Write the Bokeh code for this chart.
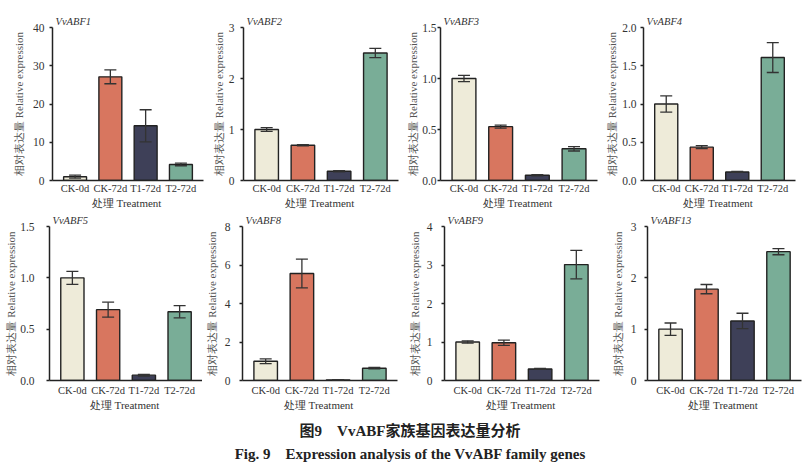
from bokeh.plotting import figure
from bokeh.models import (ColumnDataSource, Whisker, TeeHead, FixedTicker,
                          NumeralTickFormatter, Range1d, FactorRange, Div)
from bokeh.layouts import column, row
from bokeh.embed import file_html
from bokeh.resources import INLINE

# ---------------- data ----------------
treatments = ["CK-0d", "CK-72d", "T1-72d", "T2-72d"]
bar_colors = ["#eeebd9", "#d8765f", "#3e4058", "#79ad97"]
genes = ["VvABF1", "VvABF2", "VvABF3", "VvABF4",
         "VvABF5", "VvABF8", "VvABF9", "VvABF13"]

abf1_mean = [1.0, 27.1, 14.3, 4.2]
abf1_err = [0.4, 1.8, 4.2, 0.35]
abf2_mean = [1.0, 0.69, 0.18, 2.50]
abf2_err = [0.035, 0.012, 0.012, 0.09]
abf3_mean = [1.0, 0.528, 0.052, 0.311]
abf3_err = [0.03, 0.015, 0.006, 0.022]
abf4_mean = [1.0, 0.436, 0.112, 1.607]
abf4_err = [0.105, 0.02, 0.006, 0.195]
abf5_mean = [1.0, 0.69, 0.052, 0.67]
abf5_err = [0.063, 0.073, 0.008, 0.06]
abf8_mean = [1.0, 5.56, 0.03, 0.64]
abf8_err = [0.12, 0.75, 0.01, 0.04]
abf9_mean = [1.0, 0.98, 0.30, 3.01]
abf9_err = [0.03, 0.07, 0.012, 0.37]
abf13_mean = [1.0, 1.78, 1.16, 2.51]
abf13_err = [0.12, 0.09, 0.15, 0.06]

means = [abf1_mean, abf2_mean, abf3_mean, abf4_mean,
         abf5_mean, abf8_mean, abf9_mean, abf13_mean]
errors = [abf1_err, abf2_err, abf3_err, abf4_err,
          abf5_err, abf8_err, abf9_err, abf13_err]

y_ticks = [[0, 10, 20, 30, 40], [0, 1, 2, 3], [0, 0.5, 1.0, 1.5],
           [0, 0.5, 1.0, 1.5, 2.0], [0, 0.5, 1.0, 1.5], [0, 2, 4, 6, 8],
           [0, 1, 2, 3, 4], [0, 1, 2, 3]]
tick_formats = ["0", "0", "0.0", "0.0", "0.0", "0", "0", "0"]

y_label = "相对表达量 Relative expression"
x_label = "处理  Treatment"
caption_cn = "图9&emsp;VvABF家族基因表达量分析"
caption_en = "Fig. 9&emsp;Expression analysis of the VvABF family genes"

# ---------------- layout / style ----------------
frame_w = [151, 155, 157, 152, 153, 155, 155, 154]
frame_h = [153, 153, 153, 153, 154, 154, 154, 154]
border_l = [52, 38, 40, 43, 49, 36, 40, 43]
border_r = [2, 2, 3, 15, 0, 7, 5, 13]
border_t = [27, 27, 27, 27, 15, 15, 15, 15]
border_b = [30, 30, 30, 30, 30, 30, 30, 30]
ytick_standoff = [5, 6, 1, 4, 12, 9, 9, 8]
ylabel_standoff = [5, 1, 0, 1, 0, 4, 3, 4]
xtick_standoff = [2, 2, 2, 2, 4, 4, 4, 4]

SERIF = "Liberation Serif"
AX = "#222222"


def make_panel(i):
    src = ColumnDataSource(dict(
        x=treatments,
        top=means[i],
        upper=[m + e for m, e in zip(means[i], errors[i])],
        lower=[m - e for m, e in zip(means[i], errors[i])],
        color=bar_colors,
    ))
    p = figure(x_range=FactorRange(factors=treatments, range_padding=0.07),
               y_range=Range1d(0, y_ticks[i][-1]),
               frame_width=frame_w[i], frame_height=frame_h[i],
               min_border_left=border_l[i], min_border_right=border_r[i],
               min_border_top=border_t[i], min_border_bottom=border_b[i],
               output_backend="svg", toolbar_location=None,
               outline_line_color=None, background_fill_color="white")
    p.vbar(x="x", top="top", width=0.65, source=src, fill_color="color",
           line_color=AX, line_width=1.4)
    w = Whisker(source=src, base="x", upper="upper", lower="lower",
                level="annotation",
                line_color="#333333", line_width=1.3,
                upper_head=TeeHead(size=12, line_color="#333333", line_width=1.3),
                lower_head=TeeHead(size=12, line_color="#333333", line_width=1.3))
    p.add_layout(w)

    p.grid.visible = False
    p.title.text = genes[i]
    p.title.align = "left"
    p.title.offset = 3
    p.title.standoff = 1
    p.title.text_font = SERIF
    p.title.text_font_size = "10.5px"
    p.title.text_font_style = "italic"
    p.title.text_color = "#333333"

    ya = p.yaxis[0]
    ya.ticker = FixedTicker(ticks=y_ticks[i], minor_ticks=[])
    ya.formatter = NumeralTickFormatter(format=tick_formats[i])
    ya.axis_label = y_label
    ya.axis_label_text_font = SERIF
    ya.axis_label_text_font_size = "11px"
    ya.axis_label_text_font_style = "normal"
    ya.axis_label_text_color = "#555555"
    ya.axis_label_standoff = ylabel_standoff[i]
    ya.major_label_text_font = SERIF
    ya.major_label_text_font_size = "11.5px"
    ya.major_label_text_color = "#333333"
    ya.major_label_standoff = ytick_standoff[i]
    ya.major_tick_out = 3
    ya.major_tick_in = 0
    ya.major_tick_line_color = AX
    ya.major_tick_line_width = 1.3
    ya.axis_line_color = AX
    ya.axis_line_width = 1.5

    xa = p.xaxis[0]
    xa.axis_label = x_label
    xa.axis_label_text_font = SERIF
    xa.axis_label_text_font_size = "11px"
    xa.axis_label_text_font_style = "normal"
    xa.axis_label_text_color = "#333333"
    xa.axis_label_standoff = 0
    xa.major_label_text_font = SERIF
    xa.major_label_text_font_size = "10.5px"
    xa.major_label_text_color = "#333333"
    xa.major_label_standoff = xtick_standoff[i]
    xa.major_tick_out = 0
    xa.major_tick_in = 0
    xa.major_tick_line_color = None
    xa.minor_tick_line_color = None
    xa.axis_line_color = AX
    xa.axis_line_width = 1.5
    return p


panels = [make_panel(i) for i in range(8)]

caption = Div(
    text=('<div style="width:810px;text-align:center;font-family:\'Liberation Serif\','
          '\'Noto Sans CJK SC\',serif;font-weight:bold;font-size:15px;color:#222;'
          'line-height:23px;padding-top:2px;">'
          + caption_cn + '<br>' + caption_en + '</div>'),
    width=810, height=55)

layout = column(row(*panels[:4]), row(*panels[4:]), caption)

open("out.html", "w").write(file_html(layout, INLINE))
